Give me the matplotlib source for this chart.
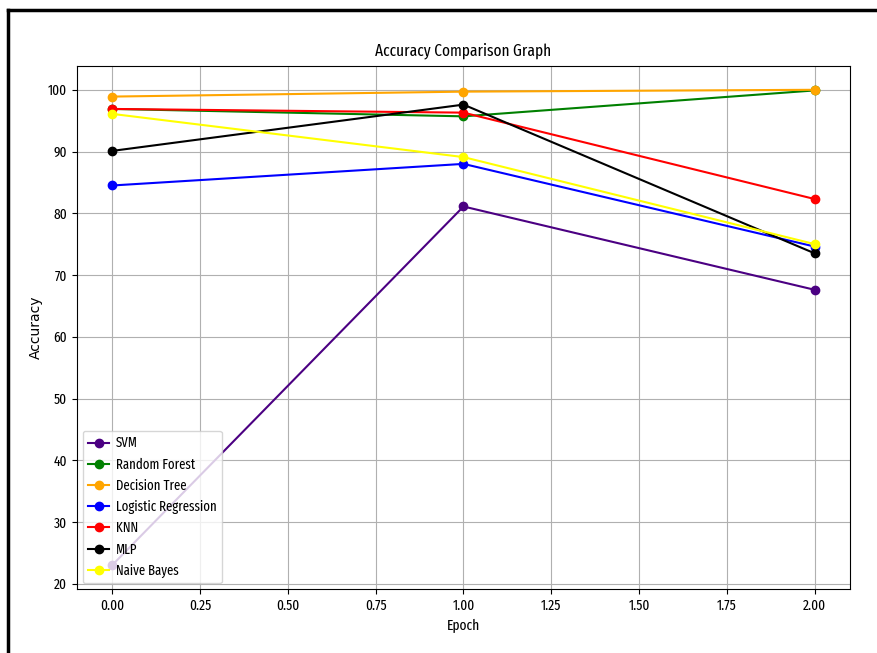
import matplotlib.pyplot as plt
from matplotlib.lines import Line2D

epochs = [0, 1, 2]
models = ["SVM", "Random Forest", "Decision Tree", "Logistic Regression", "KNN", "MLP", "Naive Bayes"]
colors = ["indigo", "green", "orange", "blue", "red", "black", "yellow"]

svm = [23.0, 81.1, 67.6]
random_forest = [96.9, 95.7, 99.9]
decision_tree = [98.9, 99.7, 100.0]
logistic_regression = [84.5, 88.0, 74.6]
knn = [96.9, 96.3, 82.3]
mlp = [90.1, 97.6, 73.5]
naive_bayes = [96.1, 89.1, 75.0]

series = [svm, random_forest, decision_tree, logistic_regression, knn, mlp, naive_bayes]

# the screenshot is squeezed sideways, so a narrow face fits the text best
plt.rcParams["font.family"] = ["Fira Sans Extra Condensed", "DejaVu Sans"]

fig = plt.figure(figsize=(8.77, 6.53), dpi=100)
ax = fig.add_axes([0.0878, 0.098, 0.8814, 0.8009])

for name, vals, c in zip(models, series, colors):
    ax.plot(epochs, vals, marker="o", color=c, label=name)

ax.set_title("Accuracy Comparison Graph", fontsize=12, pad=7.5)
ax.set_xlabel("Epoch", fontsize=10.5)
ax.set_ylabel("Accuracy", fontsize=10, family="DejaVu Sans")
ax.set_xticks([0, 0.25, 0.5, 0.75, 1.0, 1.25, 1.5, 1.75, 2.0])
ax.tick_params(labelsize=10.5)
ax.grid(True)
ax.legend(loc="lower left", fontsize=10, handlelength=1.5, handletextpad=0.5,
          labelspacing=0.5, borderaxespad=0.4)

# screenshot frame
fig.add_artist(Line2D([0.009, 1.0], [0.985, 0.985], color="black", lw=2.5, transform=fig.transFigure))
fig.add_artist(Line2D([0.009, 0.009], [0.0, 0.985], color="black", lw=2.5, transform=fig.transFigure))

fig.savefig("out.png", dpi=100)
